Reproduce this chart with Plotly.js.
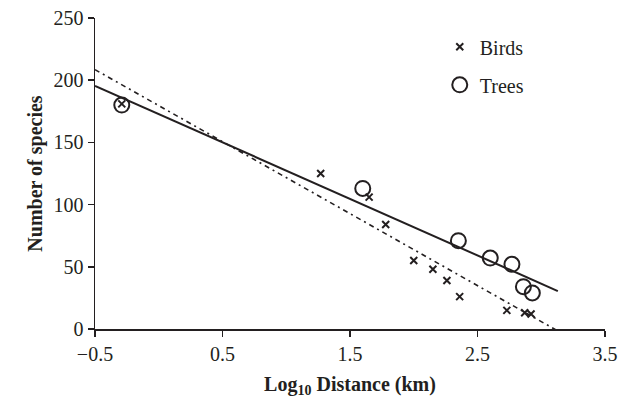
<!DOCTYPE html>
<html>
<head>
<meta charset="utf-8">
<script src="https://cdn.plot.ly/plotly-3.0.1.min.js"></script>
<style>html,body{margin:0;padding:0;background:#fff;}#chart{width:627px;height:402px;}</style>
</head>
<body>
<div id="chart"></div>
<script>
// Birds (x markers)
const birdsX = [-0.29, 1.27, 1.65, 1.78, 2.00, 2.15, 2.26, 2.36, 2.73, 2.87, 2.92];
const birdsY = [181, 125, 106, 84, 55, 48, 39, 26, 15, 13, 12];
// Trees (open circles)
const treesX = [-0.29, 1.60, 2.35, 2.60, 2.77, 2.86, 2.93];
const treesY = [180, 113, 71, 57, 52, 34, 29];
// Fitted lines (endpoints)
const birdFitX = [-0.5, 3.12];
const birdFitY = [208.5, -1];
const treeFitX = [-0.5, 3.13];
const treeFitY = [195.5, 30.5];
const xTicks = [-0.5, 0.5, 1.5, 2.5, 3.5];
const yTicks = [0, 50, 100, 150, 200, 250];

const ink = '#231f20';
const serif = '"Liberation Serif", "DejaVu Serif", serif';

const traces = [
  {x: birdFitX, y: birdFitY, mode: 'lines', showlegend: false, hoverinfo: 'skip',
   line: {color: ink, width: 1.6, dash: '5px,4px,2px,4px'}, cliponaxis: false},
  {x: treeFitX, y: treeFitY, mode: 'lines', showlegend: false, hoverinfo: 'skip',
   line: {color: ink, width: 2}},
  {x: birdsX, y: birdsY, mode: 'markers', name: 'Birds', legendgroup: 'b',
   marker: {symbol: 'x-thin-open', size: 7, color: ink, line: {color: ink, width: 2}}},
  {x: treesX, y: treesY, mode: 'markers', name: 'Trees', legendgroup: 't',
   marker: {symbol: 'circle-open', size: 15, color: ink, line: {color: ink, width: 2}}}
];

const layout = {
  width: 627, height: 402,
  margin: {l: 95, r: 22, t: 18, b: 73},
  paper_bgcolor: '#fff', plot_bgcolor: '#fff',
  font: {family: serif, size: 20, color: ink},
  showlegend: true,
  legend: {x: 0.676, y: 0.97, xanchor: 'left', yanchor: 'top', bgcolor: 'rgba(0,0,0,0)',
           font: {family: serif, size: 20, color: ink}, traceorder: 'grouped', tracegroupgap: 9},
  xaxis: {
    range: [-0.5, 3.5], tickmode: 'array', tickvals: xTicks, ticktext: xTicks.map(v => v < 0 ? '\u2212' + Math.abs(v) : String(v)),
    showgrid: false, zeroline: false, showline: true, linecolor: ink, linewidth: 1.5,
    ticks: 'outside', ticklen: 6, tickwidth: 1.5, tickcolor: ink,
    tickfont: {family: serif, size: 20, color: ink},
    title: {text: 'Log<sub>10</sub> Distance (km)', font: {family: serif, size: 20, color: ink, weight: 'bold'}, standoff: 13},
    automargin: false
  },
  yaxis: {
    range: [0, 250], tickmode: 'array', tickvals: yTicks,
    showgrid: false, zeroline: false, showline: true, linecolor: ink, linewidth: 1.5,
    ticks: 'outside', ticklen: 6, tickwidth: 1.5, tickcolor: ink,
    tickfont: {family: serif, size: 20, color: ink},
    title: {text: 'Number of species', font: {family: serif, size: 20, color: ink, weight: 'bold'}, standoff: 5},
    automargin: false
  }
};

Plotly.newPlot('chart', traces, layout, {displayModeBar: false, staticPlot: true});
</script>
</body>
</html>
